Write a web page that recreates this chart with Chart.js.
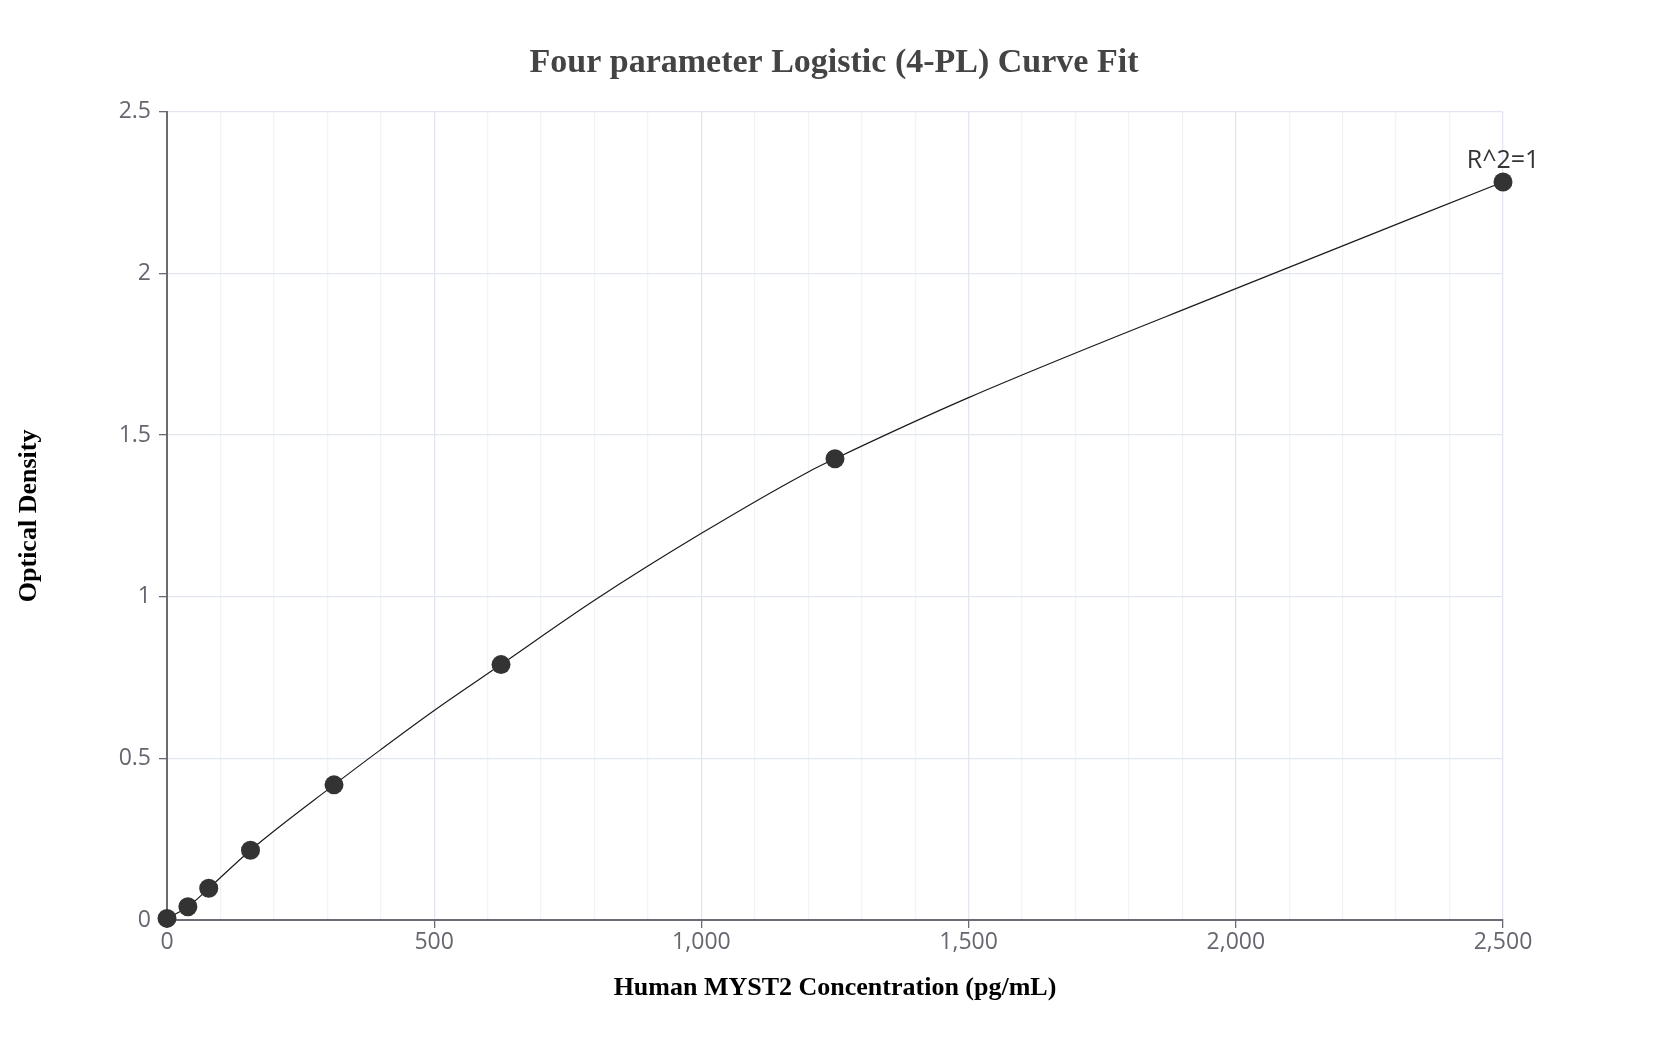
<!DOCTYPE html>
<html>
<head>
<meta charset="utf-8">
<title>4-PL Curve Fit</title>
<script src="https://cdn.jsdelivr.net/npm/chart.js@4.4.0/dist/chart.umd.min.js"></script>
<style>
    html, body { margin: 0; padding: 0; background: #ffffff; }
    #kast { width: 1668px; height: 1050px; }
</style>
</head>
<body>
<div id="kast"><canvas id="diagramm" width="1668" height="1050"></canvas></div>
<script>
// Mõõdetud punktid (kontsentratsioon pg/mL ja optiline tihedus)
const kontsentratsioonid = [0, 39.06, 78.13, 156.25, 312.5, 625, 1250, 2500];
const optilineTihedus = [0.005, 0.041, 0.098, 0.216, 0.418, 0.790, 1.427, 2.283];

// Sobitatud 4-PL kõver, pildilt loetud punktid
const kõveraX = [0, 39.06, 78.13, 156.25, 312.5, 400, 500, 625, 800, 1000, 1200, 1250, 1500, 2000, 2500];
const kõveraY = [0.005, 0.041, 0.098, 0.216, 0.418, 0.527, 0.648, 0.790, 0.989, 1.196, 1.386, 1.427, 1.616, 1.953, 2.283];

// Telgede jaotised
const xPeaTikid = [0, 500, 1000, 1500, 2000, 2500];
const xSammVäike = 100;
const yTikid = [0, 0.5, 1, 1.5, 2, 2.5];

const pealkiri = 'Four parameter Logistic (4-PL) Curve Fit';
const xPealkiri = 'Human MYST2 Concentration (pg/mL)';
const yPealkiri = 'Optical Density';
const sobivus = 'R^2=1';

// Kas x väärtus on pea-jaotis
function onPeaTikk(v) {
    return xPeaTikid.some((t) => Math.abs(t - v) < 1e-6);
}

// Plugin, mis kirjutab R^2 viimase punkti kohale
const r2Silt = {
    id: 'r2Silt',
    afterDatasetsDraw(chart) {
        const { ctx, scales: { x, y } } = chart;
        const i = kontsentratsioonid.length - 1;
        const px = x.getPixelForValue(kontsentratsioonid[i]);
        const py = y.getPixelForValue(optilineTihedus[i]);
        ctx.save();
        ctx.font = '25px "Open Sans"';
        ctx.fillStyle = '#333333';
        ctx.textAlign = 'center';
        ctx.textBaseline = 'alphabetic';
        ctx.fillText(sobivus, px, py - 14);
        ctx.restore();
    }
};

const tikiFont = { family: '"Open Sans", sans-serif', size: 23 };
const telgFont = { family: '"Liberation Serif", "Times New Roman", serif', size: 26, weight: 'bold' };

const ctx = document.getElementById('diagramm').getContext('2d');
new Chart(ctx, {
    type: 'scatter',
    data: {
        datasets: [
            {
                label: 'Standardid',
                data: kontsentratsioonid.map((k, i) => ({ x: k, y: optilineTihedus[i] })),
                pointRadius: 9.5,
                pointHoverRadius: 9.5,
                pointBackgroundColor: '#333333',
                pointBorderColor: '#333333',
                pointBorderWidth: 0,
                showLine: false,
                clip: false
            },
            {
                label: 'Kõver',
                data: kõveraX.map((k, i) => ({ x: k, y: kõveraY[i] })),
                showLine: true,
                borderColor: '#1a1a1a',
                borderWidth: 1.2,
                pointRadius: 0,
                cubicInterpolationMode: 'monotone',
                fill: false,
                clip: false
            }
        ]
    },
    options: {
        responsive: false,
        animation: false,
        devicePixelRatio: 1,
        layout: { padding: 0 },
        plugins: {
            legend: { display: false },
            tooltip: { enabled: false },
            title: {
                display: true,
                text: pealkiri,
                color: '#444444',
                font: { family: '"Liberation Serif", "Times New Roman", serif', size: 34, weight: 'bold' },
                padding: { top: 43, bottom: 28 }
            }
        },
        scales: {
            x: {
                type: 'linear',
                min: 0,
                max: 2500,
                afterFit: (scale) => { scale.height = 130; },
                ticks: {
                    stepSize: xSammVäike,
                    maxTicksLimit: 40,
                    autoSkip: false,
                    maxRotation: 0,
                    padding: 1,
                    color: '#666670',
                    font: tikiFont,
                    callback: (v) => onPeaTikk(v) ? v.toLocaleString('en-US') : ''
                },
                grid: {
                    color: (c) => onPeaTikk(c.tick.value) ? '#e2e6ee' : '#f1f3f8',
                    tickColor: (c) => onPeaTikk(c.tick.value) ? '#6b6b73' : 'rgba(0,0,0,0)',
                    tickLength: 8,
                    lineWidth: 1.3
                },
                border: { color: '#6b6b73', width: 2 },
                title: {
                    display: true,
                    text: xPealkiri,
                    color: '#000000',
                    font: telgFont,
                    padding: { top: 0, bottom: 46 }
                }
            },
            y: {
                type: 'linear',
                min: 0,
                max: 2.5,
                afterFit: (scale) => { scale.width = 167; },
                afterBuildTicks: (scale) => { scale.ticks = yTikid.map((v) => ({ value: v })); },
                ticks: {
                    padding: 8,
                    color: '#666670',
                    font: tikiFont,
                    callback: (v) => String(v)
                },
                grid: {
                    color: '#e2e6ee',
                    tickColor: '#6b6b73',
                    tickLength: 8,
                    lineWidth: 1.3
                },
                border: { color: '#6b6b73', width: 2 },
                title: {
                    display: true,
                    text: yPealkiri,
                    color: '#000000',
                    font: telgFont,
                    padding: { top: 14, bottom: 0 }
                }
            },
            // Nähtamatu parempoolne telg, et jätta paremale ruumi ja hoida pealkiri keskel
            yParem: {
                type: 'linear',
                position: 'right',
                display: true,
                afterFit: (scale) => { scale.width = 165; },
                ticks: { display: false },
                grid: { display: false, drawTicks: false },
                border: { display: false }
            }
        }
    },
    plugins: [r2Silt]
});
</script>
</body>
</html>
